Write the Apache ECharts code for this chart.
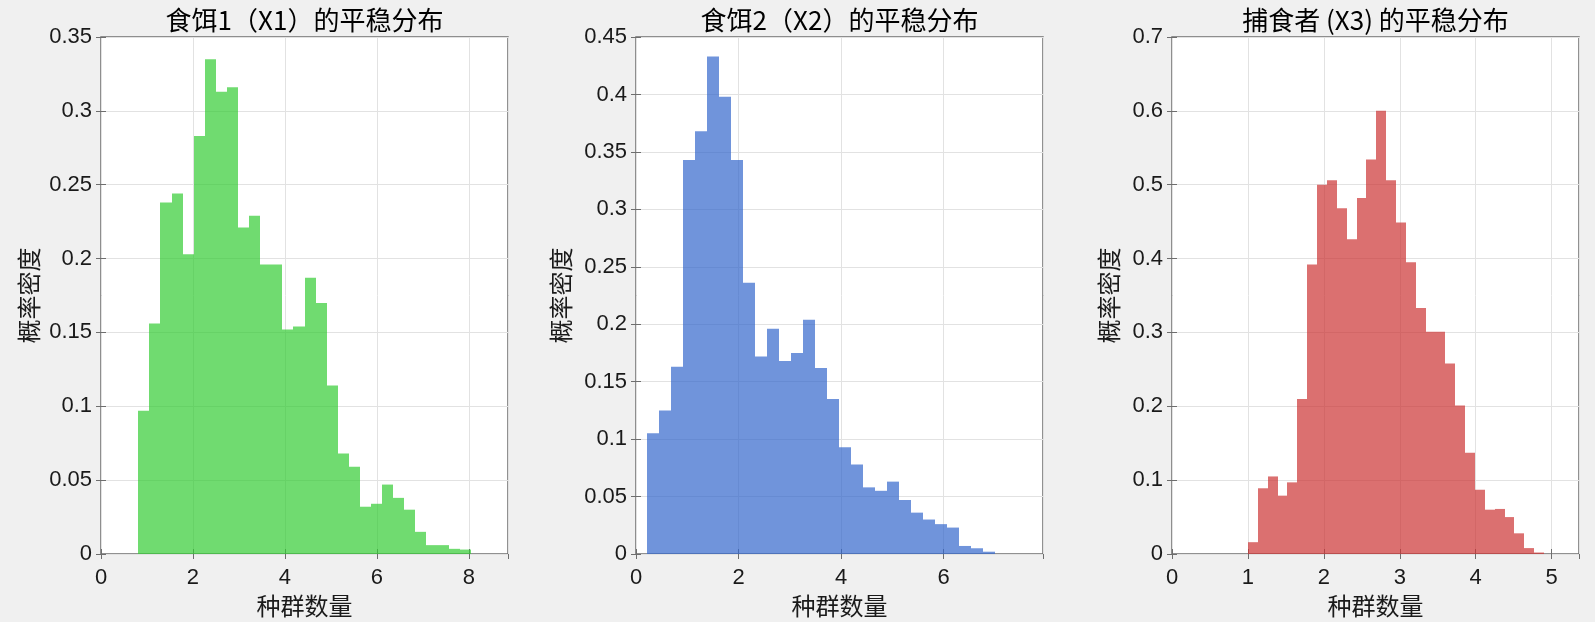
<!DOCTYPE html>
<html>
<head>
<meta charset="utf-8">
<title>平稳分布</title>
<script src="https://cdn.jsdelivr.net/npm/echarts@6/dist/echarts.min.js"></script>
<style>
  html, body { margin: 0; padding: 0; background: #f0f0f0; }
  #chart { width: 1595px; height: 622px; }
</style>
</head>
<body>
<div id="chart"></div>
<script>
// 标题
const titles = ['食饵1（X1）的平稳分布', '食饵2（X2）的平稳分布', '捕食者 (X3) 的平稳分布'];

// 直方图分箱（起点、宽度）
const x1BinStart = 0.81, x1BinWidth = 0.241;
const x2BinStart = 0.207, x2BinWidth = 0.2344;
const x3BinStart = 1.0, x3BinWidth = 0.130;

// 概率密度
const x1Density = [0.097, 0.156, 0.238, 0.244, 0.203, 0.283, 0.335, 0.313, 0.316, 0.221,
  0.229, 0.196, 0.196, 0.152, 0.154, 0.187, 0.170, 0.114, 0.068, 0.059,
  0.032, 0.034, 0.047, 0.038, 0.030, 0.015, 0.006, 0.006, 0.0035, 0.003];
const x2Density = [0.105, 0.125, 0.163, 0.343, 0.368, 0.433, 0.398, 0.343, 0.236, 0.172,
  0.196, 0.168, 0.175, 0.204, 0.162, 0.135, 0.093, 0.078, 0.058, 0.055,
  0.063, 0.047, 0.036, 0.030, 0.026, 0.023, 0.007, 0.005, 0.002];
const x3Density = [0.016, 0.089, 0.105, 0.079, 0.097, 0.210, 0.392, 0.500, 0.506, 0.468,
  0.426, 0.482, 0.534, 0.600, 0.506, 0.449, 0.395, 0.333, 0.301, 0.301,
  0.258, 0.201, 0.137, 0.087, 0.060, 0.061, 0.050, 0.028, 0.008, 0.002];

// 坐标轴范围与刻度
const xMax = [8.85, 7.94, 5.36];
const xInterval = [2, 2, 1];
const yMax = [0.35, 0.45, 0.7];
const yInterval = [0.05, 0.05, 0.1];

const colors = ['rgba(51,204,51,0.7)', 'rgba(51,102,204,0.7)', 'rgba(204,51,51,0.7)'];

const bins = (start, width, dens) => dens.map((d, i) => [start + i * width, start + (i + 1) * width, d]);
const histData = [
  bins(x1BinStart, x1BinWidth, x1Density),
  bins(x2BinStart, x2BinWidth, x2Density),
  bins(x3BinStart, x3BinWidth, x3Density)
];

const gridLeft = [101, 636, 1172];
const yNameGap = [60, 63, 51];

const sans = "'Liberation Sans', Arial, 'Noto Sans CJK SC', sans-serif";
const cjk = "'Noto Sans CJK SC', sans-serif";
const boxColor = '#6e6e6e';
const textColor = '#1a1a1a';

const chart = echarts.init(document.getElementById('chart'));

const grids = [], xAxes = [], yAxes = [], series = [];
for (let k = 0; k < 3; k++) {
  grids.push({
    left: gridLeft[k], top: 37, width: 407, height: 517,
    outerBoundsMode: 'none', containLabel: false,
    show: true, backgroundColor: '#fff', borderColor: boxColor, borderWidth: 1.5
  });
  const tickOnly = { show: true, inside: true, length: 5, lineStyle: { color: boxColor } };
  // 下方 x 轴
  xAxes.push({
    type: 'value', gridIndex: k, position: 'bottom',
    min: 0, max: xMax[k], interval: xInterval[k],
    name: '种群数量', nameLocation: 'middle', nameGap: 40,
    nameTextStyle: { fontFamily: cjk, fontSize: 24, color: textColor },
    axisLine: { show: false },
    axisTick: tickOnly,
    axisLabel: { fontFamily: sans, fontSize: 22, color: textColor, margin: 13, showMaxLabel: false },
    splitLine: { show: true, lineStyle: { color: '#e2e2e2', width: 1 } }
  });
  // 上方 x 轴（只画刻度，标题放在名称里）
  xAxes.push({
    type: 'value', gridIndex: k, position: 'top',
    min: 0, max: xMax[k], interval: xInterval[k],
    name: titles[k], nameLocation: 'middle', nameGap: 4,
    nameTextStyle: { fontFamily: cjk, fontSize: 26, color: '#000' },
    axisLine: { show: false },
    axisTick: tickOnly,
    axisLabel: { show: false },
    splitLine: { show: false }
  });
  yAxes.push({
    type: 'value', gridIndex: k, position: 'left',
    min: 0, max: yMax[k], interval: yInterval[k],
    name: '概率密度', nameLocation: 'middle', nameGap: yNameGap[k],
    nameTextStyle: { fontFamily: cjk, fontSize: 24, color: textColor },
    axisLine: { show: false },
    axisTick: tickOnly,
    axisLabel: { fontFamily: sans, fontSize: 22, color: textColor, margin: 9 },
    splitLine: { show: true, lineStyle: { color: '#e2e2e2', width: 1 } }
  });
  yAxes.push({
    type: 'value', gridIndex: k, position: 'right',
    min: 0, max: yMax[k], interval: yInterval[k],
    axisLine: { show: false },
    axisTick: tickOnly,
    axisLabel: { show: false },
    splitLine: { show: false }
  });
  const fill = colors[k];
  series.push({
    type: 'custom',
    xAxisIndex: 2 * k, yAxisIndex: 2 * k,
    encode: { x: [0, 1], y: 2 },
    data: histData[k],
    renderItem: (params, api) => {
      const p0 = api.coord([api.value(0), api.value(2)]);
      const p1 = api.coord([api.value(1), 0]);
      // 对齐到整像素，避免相邻柱之间出现缝隙
      const xa = Math.round(p0[0]), xb = Math.round(p1[0]);
      return {
        type: 'rect',
        shape: { x: xa, y: p0[1], width: xb - xa, height: p1[1] - p0[1] },
        style: { fill: fill }
      };
    }
  });
}

chart.setOption({
  backgroundColor: '#f0f0f0',
  animation: false,
  grid: grids,
  xAxis: xAxes,
  yAxis: yAxes,
  series: series
});
</script>
</body>
</html>
